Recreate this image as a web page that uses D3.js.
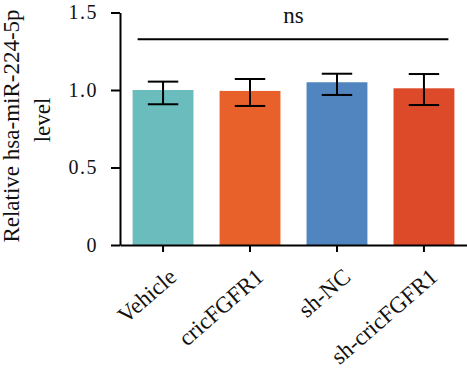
<!DOCTYPE html>
<html>
<head>
<meta charset="utf-8">
<script src="https://cdn.jsdelivr.net/npm/d3@7"></script>
<style>
  html, body { margin: 0; padding: 0; background: #fff; }
  text { font-family: "Liberation Serif", "DejaVu Serif", serif; fill: #111; }
</style>
</head>
<body>
<div id="chart"></div>
<script>
// data
const groups = ['Vehicle', 'cricFGFR1', 'sh-NC', 'sh-cricFGFR1'];
const means = [1.0, 0.994, 1.05, 1.011];
const errHigh = [1.054, 1.071, 1.105, 1.103];
const errLow = [0.908, 0.897, 0.968, 0.903];
const colors = ['#6bbdbd', '#e8612a', '#5085bf', '#dc4a2a'];
const yTicks = [0, 0.5, 1.0, 1.5];
const sigLabel = 'ns';
const sigLevel = 1.327;

const W = 467, H = 381;
const margin = { top: 12.5, right: 0, bottom: 136, left: 120 };

const svg = d3.select('#chart').append('svg')
    .attr('width', W)
    .attr('height', H);

const x = d3.scaleBand()
    .domain(groups)
    .range([margin.left, W])
    .paddingInner(0.3)
    .paddingOuter(0.145);

const y = d3.scaleLinear()
    .domain([0, 1.5])
    .range([H - margin.bottom, margin.top]);

const cx = d => x(d) + x.bandwidth() / 2;

// bars
svg.selectAll('.bar')
    .data(groups)
    .join('rect')
    .attr('class', 'bar')
    .attr('x', d => x(d))
    .attr('width', x.bandwidth())
    .attr('y', (d, i) => y(means[i]))
    .attr('height', (d, i) => y(0) - y(means[i]))
    .attr('fill', (d, i) => colors[i]);

// error bars
const capW = x.bandwidth() * 0.5;
const eb = svg.selectAll('.err')
    .data(groups)
    .join('g')
    .attr('class', 'err')
    .attr('stroke', '#000')
    .attr('stroke-width', 2);
eb.append('line')
    .attr('x1', cx)
    .attr('x2', cx)
    .attr('y1', (d, i) => y(errLow[i]))
    .attr('y2', (d, i) => y(errHigh[i]));
eb.append('line')
    .attr('x1', d => cx(d) - capW / 2)
    .attr('x2', d => cx(d) + capW / 2)
    .attr('y1', (d, i) => y(errHigh[i]))
    .attr('y2', (d, i) => y(errHigh[i]));
eb.append('line')
    .attr('x1', d => cx(d) - capW / 2)
    .attr('x2', d => cx(d) + capW / 2)
    .attr('y1', (d, i) => y(errLow[i]))
    .attr('y2', (d, i) => y(errLow[i]));

// significance line
const first = groups[0], last = groups[groups.length - 1];
svg.append('line')
    .attr('x1', x(first) + 5)
    .attr('x2', x(last) + x.bandwidth() - 6)
    .attr('y1', y(sigLevel))
    .attr('y2', y(sigLevel))
    .attr('stroke', '#000')
    .attr('stroke-width', 2);
svg.append('text')
    .attr('x', (x(first) + x(last) + x.bandwidth()) / 2)
    .attr('y', y(sigLevel) - 16)
    .attr('text-anchor', 'middle')
    .attr('font-size', '23px')
    .text(sigLabel);

// axes
const yAxis = d3.axisLeft(y)
    .tickValues(yTicks)
    .tickFormat(d => d === 0 ? '0' : d3.format('.1f')(d))
    .tickSizeInner(9)
    .tickSizeOuter(0)
    .tickPadding(13);
const ay = svg.append('g')
    .attr('transform', `translate(${margin.left},0)`)
    .call(yAxis);
ay.select('.domain').attr('stroke-width', 2);
ay.selectAll('.tick line').attr('stroke-width', 2);
ay.selectAll('text')
    .attr('font-size', '20px')
    .attr('letter-spacing', '1.5px')
    .attr('fill', '#111');

const xAxis = d3.axisBottom(x)
    .tickSizeInner(7)
    .tickSizeOuter(0)
    .tickFormat('');
const ax = svg.append('g')
    .attr('transform', `translate(0,${y(0)})`)
    .call(xAxis);
ax.select('.domain').attr('stroke-width', 2);
ax.selectAll('.tick line').attr('stroke-width', 2);

// rotated category labels
svg.selectAll('.xlabel')
    .data(groups)
    .join('text')
    .attr('class', 'xlabel')
    .attr('text-anchor', 'end')
    .attr('font-size', '23px')
    .attr('transform', d => `translate(${cx(d) + 15},${y(0) + 34}) rotate(-41)`)
    .text(d => d);

// y title
svg.append('text')
    .attr('transform', `translate(19,126) rotate(-90)`)
    .attr('text-anchor', 'middle')
    .attr('font-size', '23px')
    .text('Relative hsa-miR-224-5p');
svg.append('text')
    .attr('transform', `translate(50,120) rotate(-90)`)
    .attr('text-anchor', 'middle')
    .attr('font-size', '23px')
    .text('level');
</script>
</body>
</html>
